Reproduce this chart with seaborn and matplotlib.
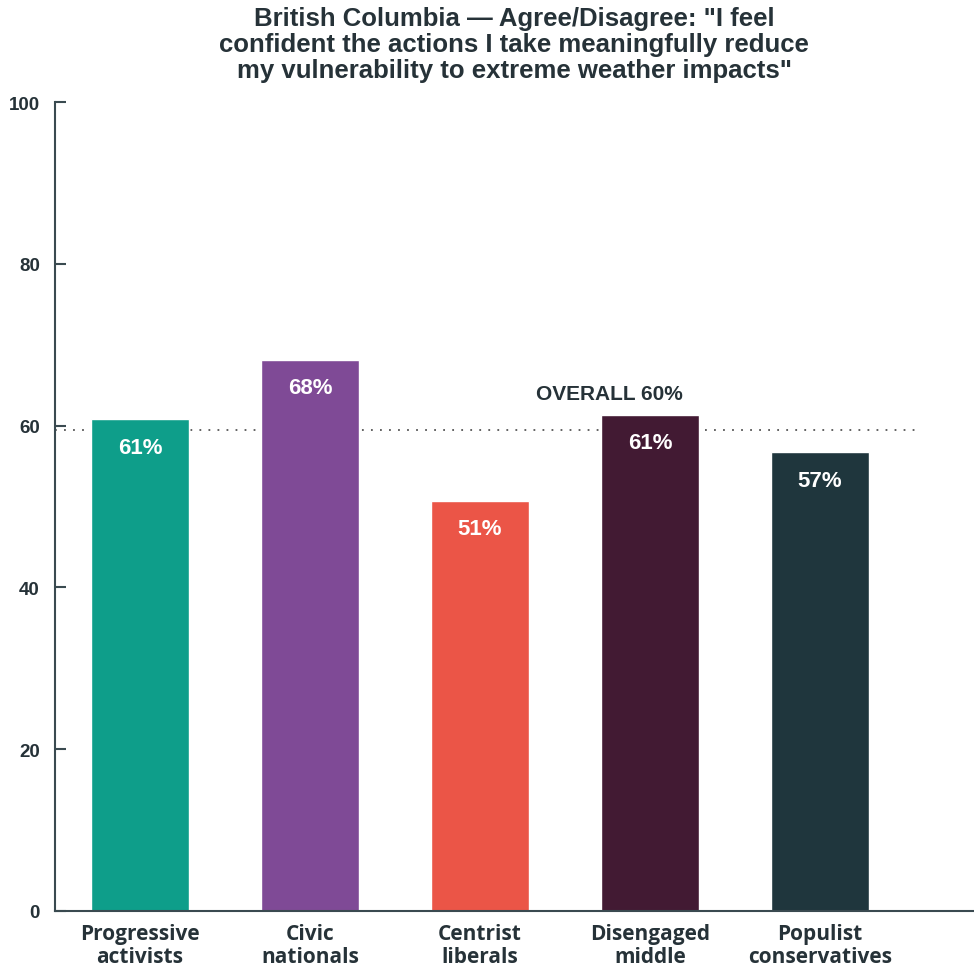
import matplotlib
matplotlib.use("Agg")
import matplotlib.pyplot as plt
import seaborn as sns
import pandas as pd

categories = ["Progressive\nactivists", "Civic\nnationals", "Centrist\nliberals",
              "Disengaged\nmiddle", "Populist\nconservatives"]
values = [60.8, 68.1, 50.7, 61.3, 56.7]
value_labels = ["61%", "68%", "51%", "61%", "57%"]
colors = ["#0E9E8A", "#7F4A96", "#EB5547", "#421A33", "#1F363D"]
overall_value = 59.5
overall_label = "OVERALL 60%"
y_ticks = [0, 20, 40, 60, 80, 100]
title = 'British Columbia — Agree/Disagree: "I feel\nconfident the actions I take meaningfully reduce\nmy vulnerability to extreme weather impacts"'

TEXT = "#263238"
ARIAL = ["Liberation Sans", "DejaVu Sans"]

sns.set_theme(style="white")
plt.rcParams['font.family'] = ['Open Sans', 'DejaVu Sans']

df = pd.DataFrame({"cat": categories, "val": values})

fig = plt.figure(figsize=(9.74, 9.70), dpi=100)
ax = fig.add_axes([0.0565, 0.0598, 0.9435, 0.834])

sns.barplot(data=df, x="cat", y="val", hue="cat", palette=colors, legend=False,
            width=0.58, saturation=1, ax=ax)

ax.set_xlim(-0.5, 4.906)
ax.set_ylim(0, 100)
ax.set_yticks(y_ticks)
ax.set_yticklabels([str(t) for t in y_ticks], fontsize=13.5, fontweight="bold",
                   color=TEXT, family=ARIAL)
ax.tick_params(axis="y", direction="in", length=8, width=1.5, color="#3A4A50",
               pad=11, left=True)
ax.tick_params(axis="x", length=0, pad=9)
for lbl in ax.get_xticklabels():
    lbl.set_fontsize(15)
    lbl.set_fontweight("bold")
    lbl.set_color(TEXT)
    lbl.set_linespacing(1.12)
ax.set_xlabel("")
ax.set_ylabel("")

for s in ["top", "right"]:
    ax.spines[s].set_visible(False)
for s in ["left", "bottom"]:
    ax.spines[s].set_color("#3A4A50")
    ax.spines[s].set_linewidth(1.5)

ax.plot([-0.5, 4.576], [overall_value, overall_value], linestyle=(0, (1, 4)),
        color="#555555", linewidth=1.3, zorder=0.5)
ax.text(2.76, 64.0, overall_label, ha="center", va="center", fontsize=15,
        fontweight="bold", color=TEXT, family=ARIAL)

for i, (v, lab) in enumerate(zip(values, value_labels)):
    ax.text(i, v - 3.45, lab, ha="center", va="center", fontsize=16,
            fontweight="bold", color="white", family=ARIAL)

fig.text(0.528, 0.9536, title, ha="center", va="center", fontsize=18.5,
         fontweight="bold", color=TEXT, family=ARIAL, linespacing=1.13)

fig.savefig("out.png", dpi=100, facecolor="white")
